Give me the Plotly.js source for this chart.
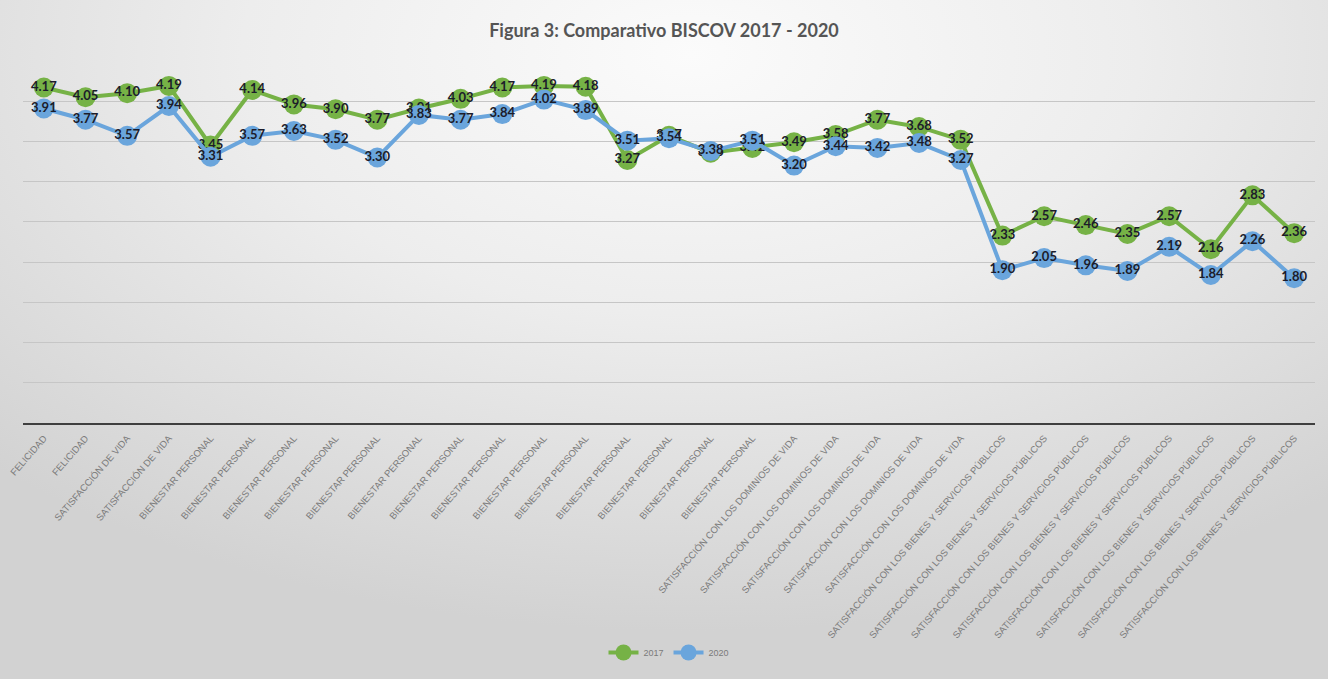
<!DOCTYPE html>
<html>
<head>
<meta charset="utf-8">
<script src="https://cdn.plot.ly/plotly-3.0.1.min.js"></script>
<style>
  html, body { margin:0; padding:0; width:1328px; height:679px; overflow:hidden; }
  body { background: radial-gradient(ellipse 75% 85% at 52% 8%, #fbfbfb 0%, #ededed 45%, #dcdcdc 80%, #d2d2d2 100%); }
  #chart { width:1328px; height:679px; }
</style>
</head>
<body>
<div id="chart"></div>
<script>
const categories = [
  "FELICIDAD","FELICIDAD",
  "SATISFACCIÓN DE VIDA","SATISFACCIÓN DE VIDA",
  "BIENESTAR PERSONAL","BIENESTAR PERSONAL","BIENESTAR PERSONAL","BIENESTAR PERSONAL",
  "BIENESTAR PERSONAL","BIENESTAR PERSONAL","BIENESTAR PERSONAL","BIENESTAR PERSONAL",
  "BIENESTAR PERSONAL","BIENESTAR PERSONAL","BIENESTAR PERSONAL","BIENESTAR PERSONAL",
  "BIENESTAR PERSONAL","BIENESTAR PERSONAL",
  "SATISFACCIÓN CON LOS DOMINIOS DE VIDA","SATISFACCIÓN CON LOS DOMINIOS DE VIDA",
  "SATISFACCIÓN CON LOS DOMINIOS DE VIDA","SATISFACCIÓN CON LOS DOMINIOS DE VIDA",
  "SATISFACCIÓN CON LOS DOMINIOS DE VIDA",
  "SATISFACCIÓN CON LOS BIENES Y SERVICIOS PÚBLICOS","SATISFACCIÓN CON LOS BIENES Y SERVICIOS PÚBLICOS",
  "SATISFACCIÓN CON LOS BIENES Y SERVICIOS PÚBLICOS","SATISFACCIÓN CON LOS BIENES Y SERVICIOS PÚBLICOS",
  "SATISFACCIÓN CON LOS BIENES Y SERVICIOS PÚBLICOS","SATISFACCIÓN CON LOS BIENES Y SERVICIOS PÚBLICOS",
  "SATISFACCIÓN CON LOS BIENES Y SERVICIOS PÚBLICOS","SATISFACCIÓN CON LOS BIENES Y SERVICIOS PÚBLICOS"
];
const values2017 = [4.17,4.05,4.10,4.19,3.45,4.14,3.96,3.90,3.77,3.91,4.03,4.17,4.19,4.18,3.27,3.57,3.36,3.42,3.49,3.58,3.77,3.68,3.52,2.33,2.57,2.46,2.35,2.57,2.16,2.83,2.36];
const values2020 = [3.91,3.77,3.57,3.94,3.31,3.57,3.63,3.52,3.30,3.83,3.77,3.84,4.02,3.89,3.51,3.54,3.38,3.51,3.20,3.44,3.42,3.48,3.27,1.90,2.05,1.96,1.89,2.19,1.84,2.26,1.80];
const seriesNames = ["2017","2020"];

const idx = categories.map((_, i) => i);
const labelFont = {family:"Lato, 'Open Sans', sans-serif", size:13, color:"#1c1c2a", weight:700};

function trace(name, vals, color) {
  return {
    type:"scatter", mode:"lines+markers+text", name:name,
    x: idx, y: vals,
    text: vals.map(v => v.toFixed(2)),
    textposition:"middle center",
    textfont: labelFont,
    line:{color:color, width:4},
    marker:{color:color, size:20},
    hoverinfo:"skip"
  };
}

const data = [
  trace(seriesNames[0], values2017, "#76b246"),
  trace(seriesNames[1], values2020, "#6aa5dc")
];

const layout = {
  width:1328, height:679,
  paper_bgcolor:"rgba(0,0,0,0)", plot_bgcolor:"rgba(0,0,0,0)",
  margin:{l:23, r:13, t:61, b:252},
  title:{text:"Figura 3: Comparativo BISCOV 2017 - 2020", x:0.5, xanchor:"center", y:0.955, yanchor:"middle",
         font:{family:"Lato, sans-serif", size:18, color:"#555555", weight:700}},
  xaxis:{
    range:[-0.5, categories.length-0.5],
    tickmode:"array", tickvals: idx, ticktext: categories,
    tickangle:-49, tickfont:{family:"'Liberation Sans', Arial, sans-serif", size:9.5, color:"#7c7c7c"},
    ticklabelstandoff:4,
    showgrid:false, zeroline:false, showline:true, linecolor:"#3f3f3f", linewidth:2,
    ticks:"", fixedrange:true
  },
  yaxis:{
    range:[0, 4.5], dtick:0.5, showticklabels:false, ticks:"",
    showgrid:true, gridcolor:"#c6c6c6", gridwidth:1, zeroline:false, showline:false, fixedrange:true
  },
  showlegend:true,
  legend:{orientation:"h", x:0.5, xanchor:"center", y:-0.634, yanchor:"middle",
          font:{family:"'Liberation Sans', Arial, sans-serif", size:9, color:"#7a7a7a"},
          bgcolor:"rgba(0,0,0,0)", itemwidth:30, traceorder:"normal"}
};

Plotly.newPlot("chart", data, layout, {displayModeBar:false, staticPlot:true});
</script>
</body>
</html>
